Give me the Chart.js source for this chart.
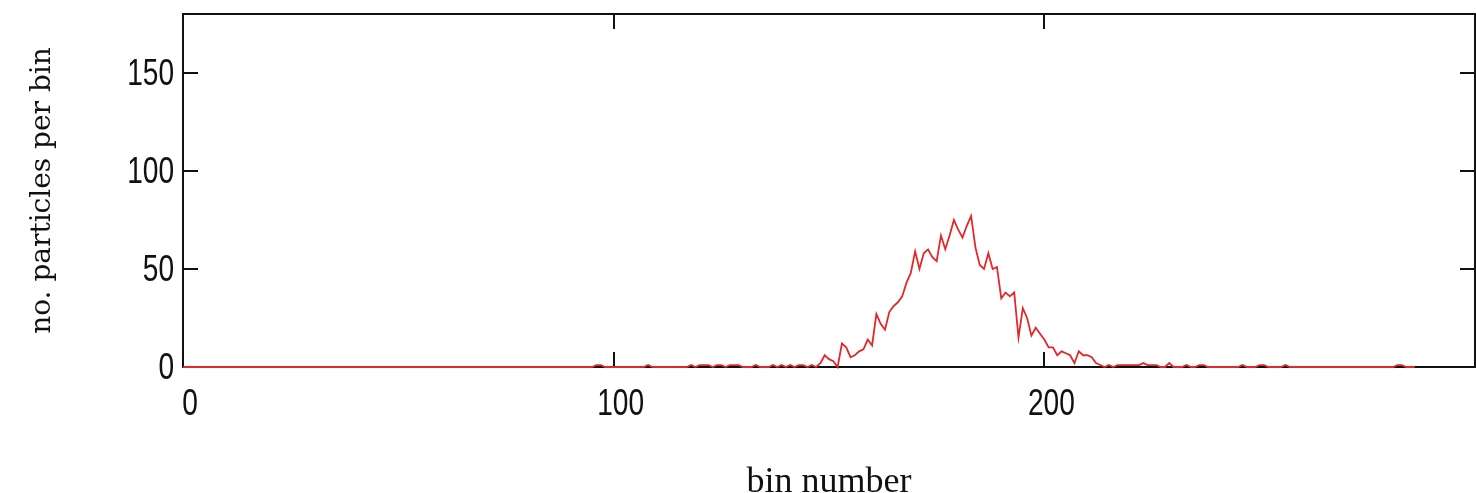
<!DOCTYPE html>
<html>
<head>
<meta charset="utf-8">
<script src="https://cdn.jsdelivr.net/npm/chart.js@4.4.0/dist/chart.umd.min.js"></script>
<style>
  html, body { margin: 0; padding: 0; background: #fff; }
  canvas { display: block; }
</style>
</head>
<body>
<canvas id="hist" width="1476" height="493"></canvas>
<script>
// particle counts for bins 0..286
const counts = [
  0, 0, 0, 0, 0, 0, 0, 0, 0, 0, 0, 0, 0, 0, 0, 0, 0, 0, 0, 0,
  0, 0, 0, 0, 0, 0, 0, 0, 0, 0, 0, 0, 0, 0, 0, 0, 0, 0, 0, 0,
  0, 0, 0, 0, 0, 0, 0, 0, 0, 0, 0, 0, 0, 0, 0, 0, 0, 0, 0, 0,
  0, 0, 0, 0, 0, 0, 0, 0, 0, 0, 0, 0, 0, 0, 0, 0, 0, 0, 0, 0,
  0, 0, 0, 0, 0, 0, 0, 0, 0, 0, 0, 0, 0, 0, 0, 0, 1, 1, 0, 0,
  0, 0, 0, 0, 0, 0, 0, 0, 1, 0, 0, 0, 0, 0, 0, 0, 0, 0, 1, 0,
  1, 1, 1, 0, 1, 1, 0, 1, 1, 1, 0, 0, 0, 1, 0, 0, 0, 1, 0, 1,
  0, 1, 0, 1, 1, 0, 1, 0, 2, 6, 4, 3, 0, 12, 10, 5, 6, 8, 9, 14,
  11, 27, 22, 19, 28, 31, 33, 36, 43, 48, 59, 50, 58, 60, 56, 54, 67, 60, 67, 75,
  70, 66, 72, 77, 61, 52, 50, 58, 50, 51, 35, 38, 36, 38, 15, 30, 25, 16, 20, 17,
  14, 10, 10, 6, 8, 7, 6, 2, 8, 6, 6, 5, 2, 1, 0, 1, 0, 1, 1, 1,
  1, 1, 1, 2, 1, 1, 1, 0, 0, 2, 0, 0, 0, 1, 0, 0, 1, 1, 0, 0,
  0, 0, 0, 0, 0, 0, 1, 0, 0, 0, 1, 1, 0, 0, 0, 0, 1, 0, 0, 0,
  0, 0, 0, 0, 0, 0, 0, 0, 0, 0, 0, 0, 0, 0, 0, 0, 0, 0, 0, 0,
  0, 0, 1, 1, 0, 0, 0
];
const xTicks = [0, 100, 200];
const yTicks = [0, 50, 100, 150];
const xMax = 300;
const yMax = 180;
const xTitle = 'bin number';
const yTitle = 'no. particles per bin';

const ink = '#111';
const tickFont = '36px "Liberation Sans", Arial, sans-serif';
const squeeze = 0.78;   // tick numerals are drawn narrow

// box round the plot plus short inward tick marks on every side
const framePlugin = {
  id: 'frame',
  beforeDatasetsDraw(chart) {
    const { ctx, chartArea: a, scales: { x, y } } = chart;
    const len = 15;
    ctx.save();
    ctx.strokeStyle = ink;
    ctx.lineWidth = 2;
    ctx.strokeRect(a.left, a.top, a.right - a.left, a.bottom - a.top);
    ctx.beginPath();
    yTicks.filter(v => v > 0).forEach(v => {
      const py = Math.round(y.getPixelForValue(v));
      ctx.moveTo(a.left, py); ctx.lineTo(a.left + len, py);
      ctx.moveTo(a.right, py); ctx.lineTo(a.right - len, py);
    });
    xTicks.filter(v => v > 0).forEach(v => {
      const px = Math.round(x.getPixelForValue(v));
      ctx.moveTo(px, a.bottom); ctx.lineTo(px, a.bottom - len);
      ctx.moveTo(px, a.top); ctx.lineTo(px, a.top + len);
    });
    ctx.stroke();
    ctx.restore();
  },
  afterDraw(chart) {
    const { ctx, chartArea: a, scales: { x, y } } = chart;
    const label = (text, px, py, align) => {
      ctx.save();
      ctx.translate(px, py);
      ctx.scale(squeeze, 1);
      ctx.textAlign = align;
      ctx.fillText(text, 0, 0);
      ctx.restore();
    };
    ctx.save();
    ctx.font = tickFont;
    ctx.fillStyle = ink;
    ctx.textBaseline = 'middle';
    yTicks.forEach(v => label(String(v), a.left - 9, y.getPixelForValue(v) + 2, 'right'));
    xTicks.forEach(v => label(String(v), x.getPixelForValue(v) + 7, a.bottom + 38, 'center'));
    ctx.restore();
  }
};

new Chart(document.getElementById('hist'), {
  type: 'line',
  data: {
    datasets: [{
      data: counts.map((c, i) => ({ x: i, y: c })),
      borderColor: '#e3282a',
      borderWidth: 1.8,
      pointRadius: 0,
      tension: 0,
      clip: false
    }]
  },
  options: {
    responsive: false,
    animation: false,
    layout: { padding: { top: 14, right: 1, bottom: 0, left: 0 } },
    plugins: { legend: { display: false }, tooltip: { enabled: false } },
    scales: {
      x: {
        type: 'linear',
        min: 0,
        max: xMax,
        afterBuildTicks: s => { s.ticks = xTicks.map(v => ({ value: v })); },
        afterFit: s => { s.height = 126; s.paddingLeft = 0; s.paddingRight = 0; },
        grid: { display: false, drawTicks: false },
        border: { display: false },
        ticks: { display: false },
        title: {
          display: true,
          text: xTitle,
          color: ink,
          font: { family: "'Liberation Serif', serif", size: 36, lineHeight: 1 },
          padding: { top: 0, bottom: -8 }
        }
      },
      y: {
        min: 0,
        max: yMax,
        afterBuildTicks: s => { s.ticks = yTicks.map(v => ({ value: v })); },
        afterFit: s => { s.width = 183; s.paddingTop = 0; s.paddingBottom = 0; },
        grid: { display: false, drawTicks: false },
        border: { display: false },
        ticks: { display: false },
        title: {
          display: true,
          text: yTitle,
          color: ink,
          font: { family: "'DejaVu Serif', serif", size: 28 },
          padding: { top: 26, bottom: 0 }
        }
      }
    }
  },
  plugins: [framePlugin]
});
</script>
</body>
</html>
